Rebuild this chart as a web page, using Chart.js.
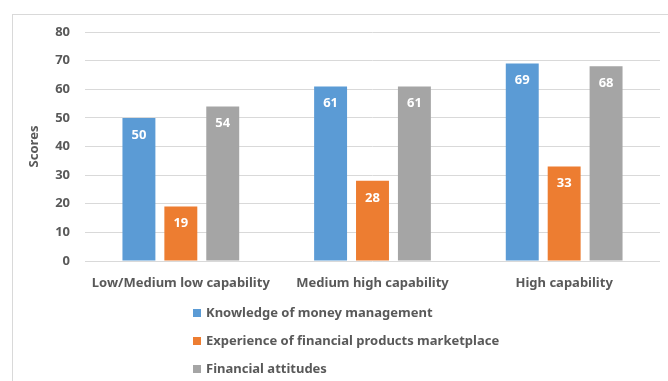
<!DOCTYPE html>
<html>
<head>
<meta charset="utf-8">
<script src="https://cdn.jsdelivr.net/npm/chart.js@4"></script>
<style>
  html, body { margin: 0; padding: 0; background: #fff; }
  #wrap { width: 668px; height: 381px; position: relative; }
</style>
</head>
<body>
<div id="wrap"><canvas id="grafico"></canvas></div>
<script>
const categorias = ['Low/Medium low capability', 'Medium high capability', 'High capability'];
const conhecimento = [50, 61, 69];
const experiencia = [19, 28, 33];
const atitudes = [54, 61, 68];
const nomesSeries = ['Knowledge of money management', 'Experience of financial products marketplace', 'Financial attitudes'];
const coresSeries = ['#5B9BD5', '#ED7D31', '#A5A5A5'];

const fonte = '"Noto Sans", "Open Sans", sans-serif';
const corTexto = '#595959';

// valores dentro das barras
const rotulosPlugin = {
    id: 'rotulos',
    afterDatasetsDraw(chart) {
        const ctx = chart.ctx;
        ctx.save();
        ctx.fillStyle = '#fff';
        ctx.font = 'bold 13px ' + fonte;
        ctx.textAlign = 'center';
        ctx.textBaseline = 'middle';
        chart.data.datasets.forEach((ds, i) => {
            chart.getDatasetMeta(i).data.forEach((bar, j) => {
                ctx.fillText(ds.data[j], bar.x, bar.y + 17);
            });
        });
        ctx.restore();
    }
};

// borda e legenda vertical
const molduraPlugin = {
    id: 'moldura',
    beforeDraw(chart) {
        const ctx = chart.ctx;
        ctx.save();
        ctx.strokeStyle = '#d9d9d9';
        ctx.lineWidth = 1;
        ctx.strokeRect(12.5, 14.5, 700, 400);
        ctx.restore();
    },
    afterDraw(chart) {
        const ctx = chart.ctx;
        ctx.save();
        ctx.font = 'bold 13px ' + fonte;
        ctx.textBaseline = 'middle';
        chart.data.datasets.forEach((ds, i) => {
            const y = 313 + i * 28;
            ctx.fillStyle = ds.backgroundColor;
            ctx.fillRect(193, y - 4, 8, 8);
            ctx.fillStyle = corTexto;
            ctx.fillText(ds.label, 206, y);
        });
        ctx.restore();
    }
};

new Chart(document.getElementById('grafico'), {
    type: 'bar',
    data: {
        labels: categorias,
        datasets: [
            { label: nomesSeries[0], data: conhecimento, backgroundColor: coresSeries[0] },
            { label: nomesSeries[1], data: experiencia, backgroundColor: coresSeries[1] },
            { label: nomesSeries[2], data: atitudes, backgroundColor: coresSeries[2] }
        ]
    },
    options: {
        responsive: true,
        maintainAspectRatio: false,
        animation: false,
        categoryPercentage: 0.656,
        barPercentage: 0.786,
        layout: { padding: { top: 32, right: 8, bottom: 80, left: 0 } },
        plugins: {
            legend: { display: false },
            tooltip: { enabled: false }
        },
        scales: {
            x: {
                grid: { display: false, drawTicks: false },
                border: { display: false },
                ticks: { color: corTexto, font: { family: fonte, size: 13, weight: 'bold' }, padding: 14, maxRotation: 0 },
                afterFit(scale) { scale.height = 40; }
            },
            y: {
                min: 0,
                max: 80,
                ticks: { stepSize: 10, color: corTexto, font: { family: fonte, size: 13, weight: 'bold' }, padding: 15 },
                grid: { color: '#d9d9d9', drawTicks: false },
                border: { display: false },
                title: { display: true, text: 'Scores', color: corTexto, font: { family: fonte, size: 13, weight: 'bold' }, padding: { top: 26 } },
                afterFit(scale) { scale.width = 85; }
            }
        }
    },
    plugins: [rotulosPlugin, molduraPlugin]
});
</script>
</body>
</html>
